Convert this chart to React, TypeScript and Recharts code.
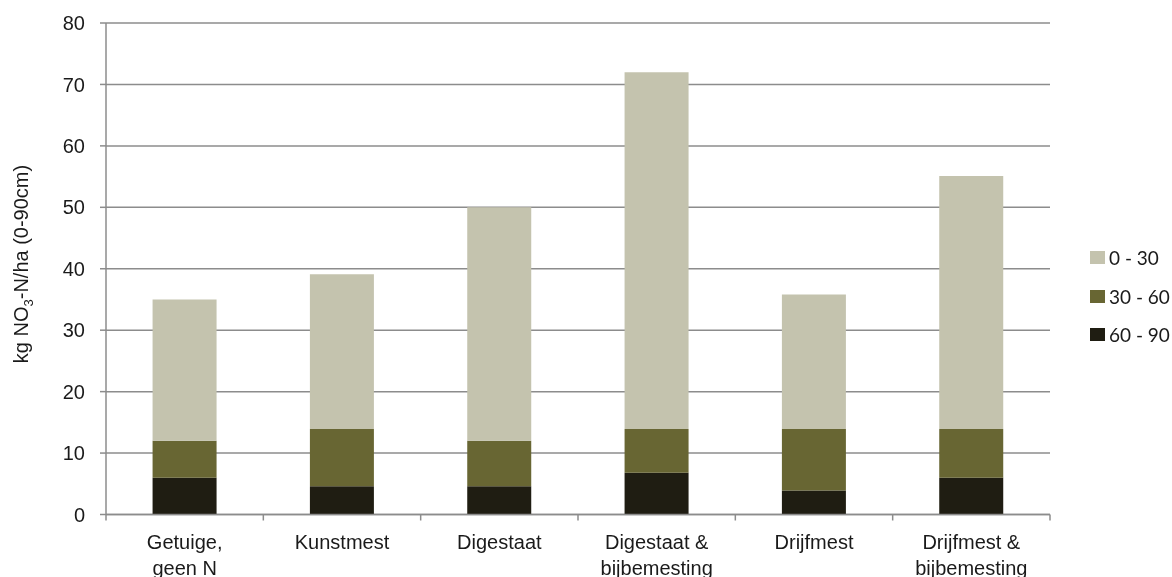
import React from 'react';
import { BarChart, Bar, XAxis, YAxis, CartesianGrid, Legend } from 'recharts';

// treatments on the x axis (\n = line break in the label)
const categories = [
  'Getuige,\ngeen N',
  'Kunstmest',
  'Digestaat',
  'Digestaat &\nbijbemesting',
  'Drijfmest',
  'Drijfmest &\nbijbemesting',
];

// kg NO3-N/ha per soil layer (cm)
const layer0to30 = [23, 25.2, 38, 58.1, 21.9, 41.2];
const layer30to60 = [6, 9.3, 7.4, 7.1, 10, 7.9];
const layer60to90 = [6, 4.6, 4.6, 6.8, 3.9, 6];

const yTicks = [0, 10, 20, 30, 40, 50, 60, 70, 80];

const SERIES = [
  { key: 'l0', name: '0 - 30', color: '#c4c3ae' },
  { key: 'l30', name: '30 - 60', color: '#686633' },
  { key: 'l60', name: '60 - 90', color: '#1f1d12' },
];

const GRID = '#8c8c8c';

const data = categories.map((c, i) => ({
  name: c,
  l60: layer60to90[i],
  l30: layer30to60[i],
  l0: layer0to30[i],
}));

const CategoryTick = (props: any) => {
  const { x, y, payload, index } = props;
  const half = payload?.offset ?? 944 / 12;
  const lines = String(payload.value).split('\n');
  return (
    <g>
      <line x1={x - half} x2={x - half} y1={y} y2={y + 6} stroke={GRID} strokeWidth={1.5} />
      {index === categories.length - 1 && (
        <line x1={x + half} x2={x + half} y1={y} y2={y + 6} stroke={GRID} strokeWidth={1.5} />
      )}
      <text
        x={x}
        y={y + 34}
        textAnchor="middle"
        fill="#1a1a1a"
        fontSize={20}
        fontFamily="'Liberation Sans', Arial, sans-serif"
      >
        {lines.map((l, i) => (
          <tspan key={i} x={x} dy={i === 0 ? 0 : 26}>
            {l}
          </tspan>
        ))}
      </text>
    </g>
  );
};

const YLabel = () => (
  <text
    transform="translate(28, 264) rotate(-90)"
    textAnchor="middle"
    fill="#1a1a1a"
    fontSize={20}
    fontFamily="'Liberation Sans Narrow', 'Liberation Sans', Arial, sans-serif"
  >
    kg NO
    <tspan fontSize={13} dy={5}>3</tspan>
    <tspan dy={-5}>-N/ha (0-90cm)</tspan>
  </text>
);

const LegendBox = () => (
  <div style={{ fontFamily: 'Lato, sans-serif', fontSize: 19, color: '#1a1a1a' }}>
    {SERIES.map((s) => (
      <div key={s.key} style={{ display: 'flex', alignItems: 'center', height: 38.7 }}>
        <span style={{ width: 15, height: 13, background: s.color, marginRight: 4, flexShrink: 0 }} />
        <span style={{ whiteSpace: 'nowrap' }}>{s.name}</span>
      </div>
    ))}
  </div>
);

export default function App() {
  return (
    <div style={{ position: 'fixed', left: 0, top: 0 }}>
      <BarChart
        width={1172}
        height={577}
        data={data}
        margin={{ top: 23, right: 122, bottom: 0, left: 0 }}
        barCategoryGap="29.6%"
      >
        <CartesianGrid vertical={false} stroke={GRID} strokeWidth={1.5} />
        <XAxis
          dataKey="name"
          interval={0}
          height={62.5}
          axisLine={{ stroke: GRID, strokeWidth: 1.5 }}
          tickLine={false}
          tickSize={0}
          tickMargin={0}
          tick={<CategoryTick />}
        />
        <YAxis
          width={106}
          domain={[0, 80]}
          ticks={yTicks}
          interval={0}
          axisLine={{ stroke: GRID, strokeWidth: 1.5 }}
          tickLine={{ stroke: GRID, strokeWidth: 1.5 }}
          tickSize={6}
          tickMargin={15}
          tick={{ fill: '#1a1a1a', fontSize: 20, fontFamily: "'Liberation Sans', Arial, sans-serif" }}
          label={<YLabel />}
        />
        <Legend
          layout="vertical"
          align="center"
          verticalAlign="middle"
          content={<LegendBox />}
          wrapperStyle={{ left: 1090, top: 238, width: 82 }}
        />
        <Bar dataKey="l60" name="60 - 90" stackId="a" fill={SERIES[2].color} isAnimationActive={false} />
        <Bar dataKey="l30" name="30 - 60" stackId="a" fill={SERIES[1].color} isAnimationActive={false} />
        <Bar dataKey="l0" name="0 - 30" stackId="a" fill={SERIES[0].color} isAnimationActive={false} />
      </BarChart>
    </div>
  );
}
